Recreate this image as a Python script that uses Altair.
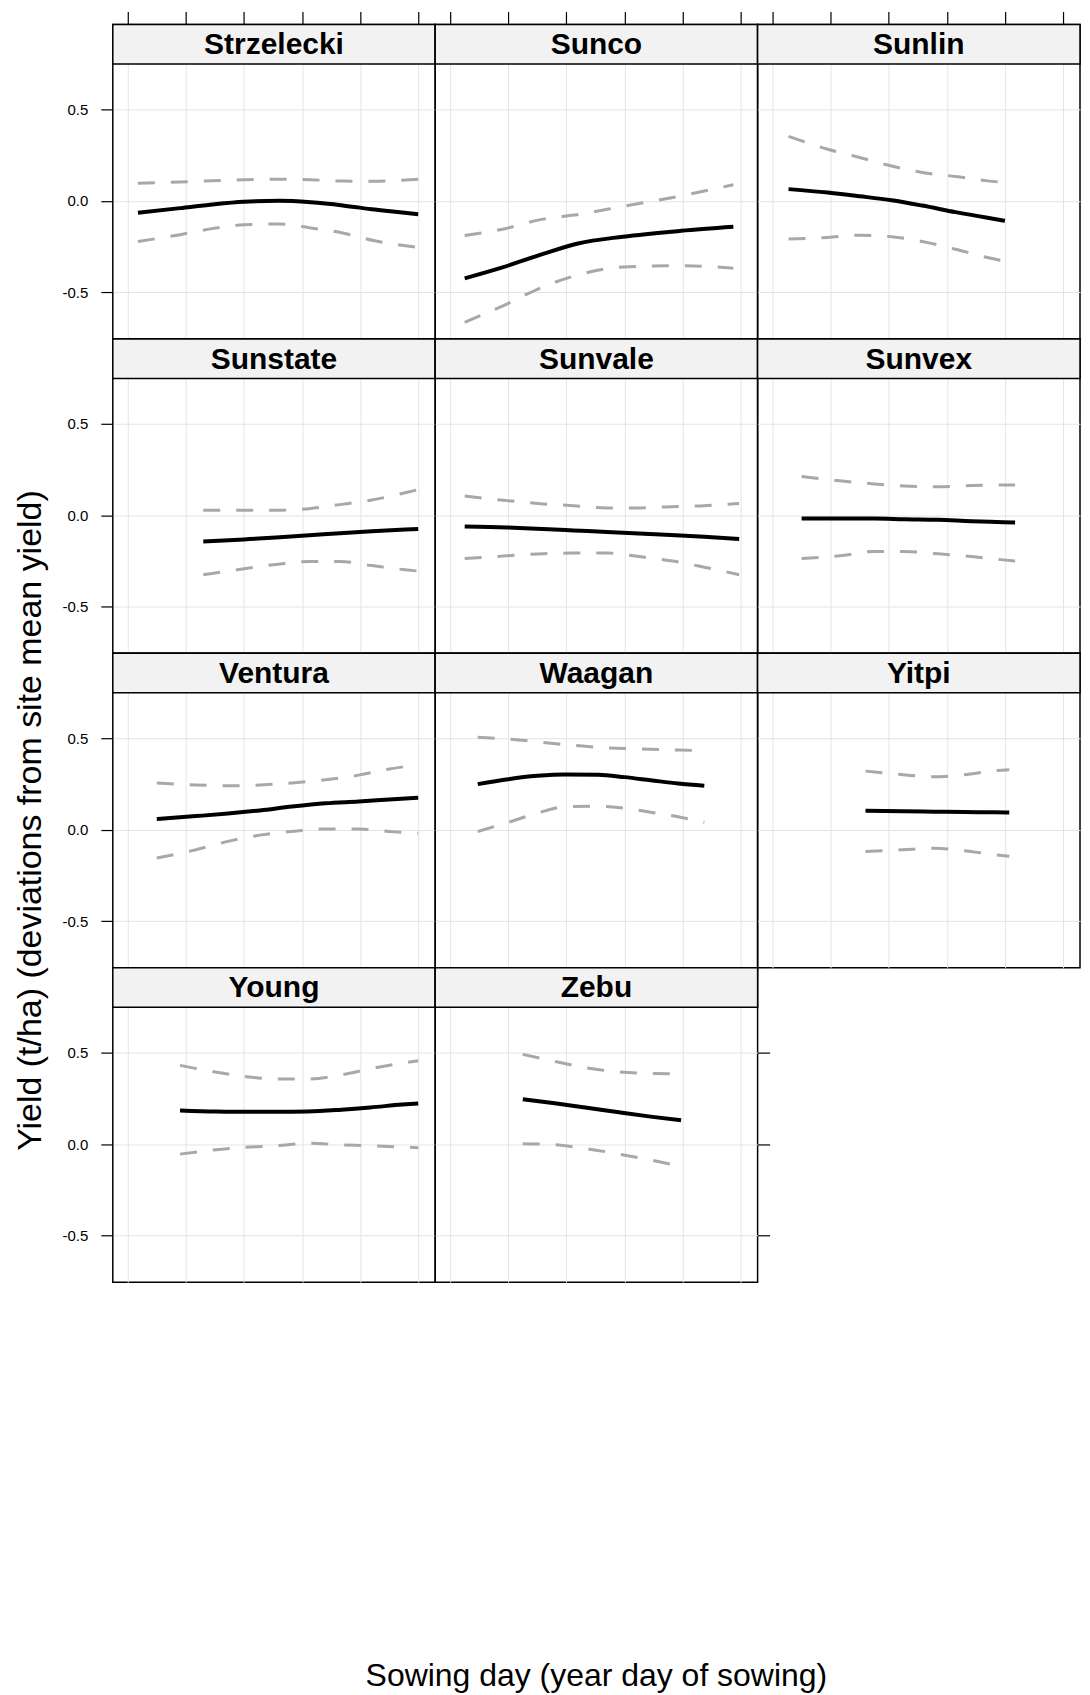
import altair as alt
import pandas as pd

FONT = "Liberation Sans"

varieties = ["Strzelecki", "Sunco", "Sunlin", "Sunstate", "Sunvale", "Sunvex",
             "Ventura", "Waagan", "Yitpi", "Young", "Zebu"]

x_ticks = [100, 120, 140, 160, 180, 200]
y_ticks = [-0.5, 0.0, 0.5]
x_title = "Sowing day (year day of sowing)"
y_title = "Yield (t/ha) (deviations from site mean yield)"

strzelecki_day = [103.5, 118, 129, 140, 152, 163, 174, 185, 200]
strzelecki_fit = [-0.065, -0.04, -0.02, -0.005, 0.0, -0.008, -0.025, -0.048, -0.073]
strzelecki_hi = [0.096, 0.103, 0.11, 0.115, 0.118, 0.115, 0.108, 0.107, 0.118]
strzelecki_lo = [-0.222, -0.185, -0.152, -0.131, -0.127, -0.148, -0.176, -0.218, -0.255]

sunco_day = [105, 118, 132, 144, 159.5, 179.5, 197.5]
sunco_fit = [-0.424, -0.364, -0.29, -0.233, -0.196, -0.164, -0.142]
sunco_hi = [-0.19, -0.155, -0.1, -0.075, -0.03, 0.027, 0.088]
sunco_lo = [-0.664, -0.575, -0.47, -0.405, -0.362, -0.355, -0.368]

sunlin_day = [105.5, 119, 130, 141, 151.5, 163, 174, 180]
sunlin_fit = [0.064, 0.045, 0.025, 0.003, -0.026, -0.062, -0.093, -0.109]
sunlin_hi = [0.352, 0.282, 0.237, 0.19, 0.155, 0.133, 0.109, 0.10]
sunlin_lo = [-0.209, -0.2, -0.188, -0.196, -0.222, -0.265, -0.31, -0.33]

sunstate_day = [126, 140, 151, 162.5, 173, 184, 195.5, 200]
sunstate_fit = [-0.144, -0.132, -0.122, -0.11, -0.098, -0.087, -0.078, -0.075]
sunstate_hi = [0.027, 0.027, 0.027, 0.036, 0.058, 0.083, 0.123, 0.14]
sunstate_lo = [-0.325, -0.293, -0.269, -0.253, -0.253, -0.275, -0.298, -0.305]

sunvale_day = [105, 119.5, 132, 142.5, 154, 165, 176, 187.5, 199.5]
sunvale_fit = [-0.062, -0.067, -0.075, -0.083, -0.092, -0.1, -0.108, -0.118, -0.13]
sunvale_hi = [0.105, 0.08, 0.062, 0.052, 0.04, 0.04, 0.047, 0.052, 0.064]
sunvale_lo = [-0.237, -0.222, -0.21, -0.207, -0.207, -0.226, -0.249, -0.284, -0.325]

sunvex_day = [110, 124, 135, 145.5, 157, 168.5, 179.5, 183.5]
sunvex_fit = [-0.018, -0.018, -0.018, -0.022, -0.025, -0.033, -0.038, -0.04]
sunvex_hi = [0.212, 0.187, 0.171, 0.16, 0.156, 0.162, 0.165, 0.165]
sunvex_lo = [-0.237, -0.22, -0.198, -0.198, -0.211, -0.226, -0.244, -0.25]

ventura_day = [110, 123.5, 134.5, 145.5, 156.5, 168, 179.5, 190, 200]
ventura_fit = [0.058, 0.074, 0.088, 0.105, 0.126, 0.144, 0.154, 0.165, 0.175]
ventura_hi = [0.255, 0.244, 0.24, 0.244, 0.255, 0.273, 0.298, 0.331, 0.355]
ventura_lo = [-0.155, -0.11, -0.064, -0.03, -0.01, 0.004, 0.004, -0.01, -0.02]

waagan_day = [109.5, 120, 130, 139.5, 151, 160, 169, 178.5, 187.5]
waagan_fit = [0.249, 0.276, 0.294, 0.302, 0.3, 0.287, 0.27, 0.252, 0.24]
waagan_hi = [0.505, 0.495, 0.48, 0.465, 0.45, 0.443, 0.44, 0.435, 0.432]
waagan_lo = [-0.01, 0.04, 0.09, 0.125, 0.128, 0.117, 0.095, 0.07, 0.04]

yitpi_day = [132, 145, 155.5, 166, 176.5, 181.5]
yitpi_fit = [0.103, 0.1, 0.098, 0.096, 0.095, 0.094]
yitpi_hi = [0.32, 0.3, 0.289, 0.3, 0.322, 0.328]
yitpi_lo = [-0.12, -0.11, -0.102, -0.115, -0.137, -0.145]

young_day = [118, 130.5, 140.5, 151, 162, 173.5, 183.5, 194.5, 200]
young_fit = [0.184, 0.178, 0.176, 0.176, 0.178, 0.188, 0.2, 0.216, 0.222]
young_hi = [0.43, 0.393, 0.369, 0.356, 0.356, 0.378, 0.411, 0.442, 0.455]
young_lo = [-0.055, -0.031, -0.018, -0.009, 0.004, -0.004, -0.009, -0.016, -0.02]

zebu_day = [125, 136, 146.5, 157.5, 169, 179.5]
zebu_fit = [0.245, 0.223, 0.2, 0.175, 0.15, 0.13]
zebu_hi = [0.49, 0.452, 0.418, 0.395, 0.386, 0.384]
zebu_lo = [0.002, -0.004, -0.024, -0.053, -0.087, -0.122]

series_data = [
    (strzelecki_day, strzelecki_fit, strzelecki_lo, strzelecki_hi),
    (sunco_day, sunco_fit, sunco_lo, sunco_hi),
    (sunlin_day, sunlin_fit, sunlin_lo, sunlin_hi),
    (sunstate_day, sunstate_fit, sunstate_lo, sunstate_hi),
    (sunvale_day, sunvale_fit, sunvale_lo, sunvale_hi),
    (sunvex_day, sunvex_fit, sunvex_lo, sunvex_hi),
    (ventura_day, ventura_fit, ventura_lo, ventura_hi),
    (waagan_day, waagan_fit, waagan_lo, waagan_hi),
    (yitpi_day, yitpi_fit, yitpi_lo, yitpi_hi),
    (young_day, young_fit, young_lo, young_hi),
    (zebu_day, zebu_fit, zebu_lo, zebu_hi),
]

# layout (pixels)
W = 323
HS = 39.5           # strip height
HP = 275.5          # data region height
H = HS + HP
PX_PER_UNIT = 183.3
Y_MIN = -0.755
Y_MAX = Y_MIN + H / PX_PER_UNIT
DAY_PER_PX = 20 / 58.2
X_MIN = 94.85
X_MAX = X_MIN + W * DAY_PER_PX

GRID = dict(grid=True, gridColor="#e4e4e4", gridWidth=1)
LABEL_EXPR = "datum.value < 0 ? '-' + format(-datum.value, '.1f') : format(datum.value, '.1f')"


def make_panel(i, name, day, fit, lo, hi):
    r, c = divmod(i, 3)
    n = len(day)
    df = pd.DataFrame({
        "day": list(day) * 3,
        "value": list(fit) + list(lo) + list(hi),
        "series": ["fit"] * n + ["lower"] * n + ["upper"] * n,
    })

    if r == 0:
        xaxis = alt.Axis(orient="top", values=x_ticks, labels=False, ticks=True,
                         tickSize=13, tickColor="black", tickWidth=1.2, minExtent=0,
                         domain=False, title=None, **GRID)
    elif name == "Young":
        xaxis = alt.Axis(orient="bottom", values=x_ticks, labels=False, ticks=False,
                         domain=False, title=x_title, titleFont=FONT, titleFontSize=32,
                         titleFontWeight="normal", titleColor="black",
                         titleX=(3 * W) / 2 - 0.5, titleY=404, titleAlign="center",
                         titleBaseline="alphabetic", **GRID)
    else:
        xaxis = alt.Axis(values=x_ticks, labels=False, ticks=False, domain=False,
                         title=None, **GRID)

    if c == 0:
        if name == "Ventura":
            extra = dict(title=y_title, titleFont=FONT, titleFontSize=34,
                         titleFontWeight="normal", titleColor="black",
                         titleAngle=270, titleX=-72, titleY=167,
                         titleAlign="center", titleBaseline="alphabetic")
        else:
            extra = dict(title=None)
        yaxis = alt.Axis(orient="left", values=y_ticks, labelExpr=LABEL_EXPR,
                         labelFont=FONT, labelFontSize=15, labelColor="black",
                         labelPadding=13, ticks=True, tickSize=12, tickColor="black",
                         tickWidth=1.2, domain=False, **GRID, **extra)
    elif r == 3 and c == 1:
        yaxis = alt.Axis(orient="right", values=y_ticks, labels=False, ticks=True,
                         tickSize=12, tickColor="black", tickWidth=1.2,
                         domain=False, title=None, **GRID)
    else:
        yaxis = alt.Axis(values=y_ticks, labels=False, ticks=False, domain=False,
                         title=None, **GRID)

    xenc = alt.X("day:Q", scale=alt.Scale(domain=[X_MIN, X_MAX], nice=False, zero=False),
                 axis=xaxis)
    yenc = alt.Y("value:Q", scale=alt.Scale(domain=[Y_MIN, Y_MAX], nice=False, zero=False),
                 axis=yaxis)

    bounds = alt.Chart(df).transform_filter("datum.series != 'fit'").mark_line(
        color="#a8a8a8", strokeWidth=3, strokeDash=[17, 16], interpolate="monotone"
    ).encode(x=xenc, y=yenc, detail="series:N", order="day:Q")

    fitline = alt.Chart(df).transform_filter("datum.series == 'fit'").mark_line(
        color="black", strokeWidth=4, interpolate="monotone"
    ).encode(x=xenc, y=yenc, order="day:Q")

    lab_df = pd.DataFrame({"variety": [name]})
    strip = alt.Chart(lab_df).mark_rect(
        fill="#f2f2f2", stroke="black", strokeWidth=1.5
    ).encode(x=alt.value(0), x2=alt.value(W), y=alt.value(0), y2=alt.value(HS))
    label = alt.Chart(lab_df).mark_text(
        font=FONT, fontSize=30, fontWeight="bold", color="black",
        baseline="middle", align="center"
    ).encode(x=alt.value(W / 2), y=alt.value(HS / 2 + 1), text="variety:N")

    return alt.layer(bounds, fitline, strip, label).properties(width=W, height=H)


panels = [make_panel(i, name, *series_data[i]) for i, name in enumerate(varieties)]

chart = alt.concat(*panels, columns=3, spacing=0, bounds="flush").properties(
    padding={"left": 5, "top": 0, "right": 0, "bottom": 0},
    background="white",
).configure(
    font=FONT,
    view=alt.ViewConfig(stroke="black", strokeWidth=1.5),
)

chart.save("out.html", embed_options={"renderer": "svg", "actions": False})
